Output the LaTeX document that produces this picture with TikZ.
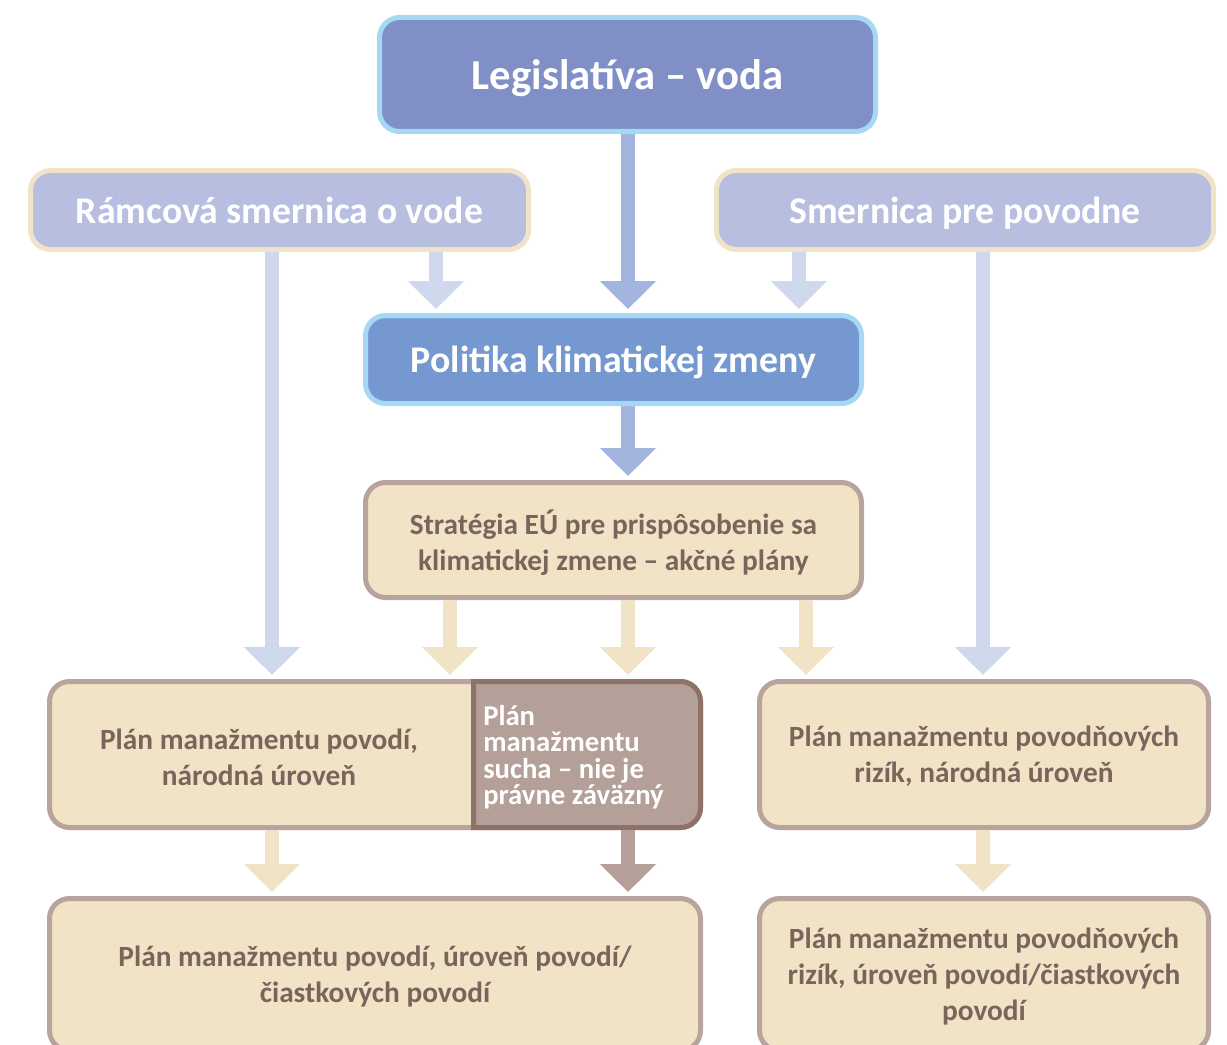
\documentclass[tikz,border=0pt]{standalone}
\usepackage{fontspec}
\setmainfont{Carlito}
\usepackage{tikz}
\usetikzlibrary{positioning,arrows.meta}
\definecolor{legisfill}{HTML}{8090C6}
\definecolor{legisline}{HTML}{A4D8F4}
\definecolor{dirfill}{HTML}{B8BEE0}
\definecolor{dirline}{HTML}{F0E4C8}
\definecolor{polfill}{HTML}{7598D0}
\definecolor{crfill}{HTML}{F1E3C5}
\definecolor{crline}{HTML}{B8A49C}
\definecolor{crtext}{HTML}{7B645C}
\definecolor{suchafill}{HTML}{B4A098}
\definecolor{suchaline}{HTML}{8E7268}
\definecolor{arrblue}{HTML}{A3B5DF}
\definecolor{arrpale}{HTML}{D0D8EE}

\begin{document}
\begin{tikzpicture}[x=0.75pt,y=0.75pt,yscale=-1,xscale=1,
	box/.style={rounded corners=15pt, line width=3.75pt, inner sep=0pt, align=center, text depth=0pt},
	legisbox/.style={box, fill=legisfill, draw=legisline, text=white, font=\bfseries\fontsize{32}{38}\selectfont},
	dirbox/.style={box, fill=dirfill, draw=dirline, text=white, font=\bfseries\fontsize{28.3}{34}\selectfont},
	polbox/.style={box, fill=polfill, draw=legisline, text=white, font=\bfseries\fontsize{28.3}{34}\selectfont},
	crbox/.style={box, fill=crfill, draw=crline},
	crtxt/.style={inner sep=0pt, align=center, text=crtext, font=\bfseries\fontsize{22}{27}\selectfont},
	blockarrow/.style={line width=10.5pt, -{Triangle[width=41pt,length=21pt]}, shorten >=3pt},
	bluearrow/.style={blockarrow, draw=arrblue},
	palearrow/.style={blockarrow, draw=arrpale},
	crarrow/.style={blockarrow, draw=crfill},
	suchaarrow/.style={blockarrow, draw=suchafill}]
	\useasboundingbox (0,0) rectangle (1227,1045);
	
	%Columns of the arrows
	\coordinate (c1) at (272,0);
	\coordinate (c2) at (436,0);
	\coordinate (c3) at (628,0);
	\coordinate (c4) at (799,0);
	\coordinate (c5) at (983,0);
	\coordinate (c6) at (450,0);
	\coordinate (c7) at (806,0);
	
	%Shape: Rounded Rect
	\node[legisbox, minimum width=372pt, minimum height=85.5pt] (legis) at (627.5,74.5) {Legislatíva – voda};
	%Shape: Rounded Rect
	\node[dirbox, minimum width=373.5pt, minimum height=59.25pt] (ramcova) at (279.5,210) {Rámcová smernica o vode};
	%Shape: Rounded Rect
	\node[dirbox, minimum width=373pt, minimum height=59.25pt] (smernica) at (965,210) {Smernica pre povodne};
	%Shape: Rounded Rect
	\node[polbox, minimum width=372pt, minimum height=66pt] (politika) at (613.5,359.5) {Politika klimatickej zmeny};
	%Shape: Rounded Rect
	\node[crbox, crtxt, minimum width=372pt, minimum height=86.25pt] (strategia) at (613.5,540) {Stratégia EÚ pre prispôsobenie sa\\klimatickej zmene – akčné plány};
	
	%Shape: Rounded Rect
	\node[crbox, minimum width=488.25pt, minimum height=109.5pt] (plannat) at (375,754.5) {};
	%Shape: drought part
	\draw[fill=suchafill, draw=suchaline, line width=3.75pt] (473.5,681.5) -- (680.5,681.5) arc[start angle=-90, end angle=0, radius=20] -- (700.5,807.5) arc[start angle=0, end angle=90, radius=20] -- (473.5,827.5) -- cycle;
	% Text Node
	\node[crtxt, text depth=0pt] (plannatlbl) at (259,757) {Plán manažmentu povodí,\\národná úroveň};
	% Text Node
	\node[anchor=north west, inner sep=0pt, align=left, text=white, font=\bfseries\fontsize{21.5}{19.8}\selectfont] (sucha) at (483,705) {Plán\\manažmentu\\sucha – nie je\\právne záväzný};
	%Shape: Rounded Rect
	\node[crbox, crtxt, minimum width=336.75pt, minimum height=109.5pt] (planriz) at (984,754.5) {Plán manažmentu povodňových\\rizík, národná úroveň};
	
	%Shape: Rounded Rect
	\node[crbox, crtxt, minimum width=488.25pt, minimum height=114pt] (planpov) at (375,974.5) {Plán manažmentu povodí, úroveň povodí/\\čiastkových povodí};
	%Shape: Rounded Rect
	\node[crbox, crtxt, minimum width=336.75pt, minimum height=114pt] (planpovriz) at (984,974.5) {Plán manažmentu povodňových\\rizík, úroveň povodí/čiastkových\\povodí};
	
	%Arrows from the top
	\draw[bluearrow] (legis.south -| c3) -- (politika.north -| c3);
	\draw[palearrow] (ramcova.south -| c2) -- (politika.north -| c2);
	\draw[palearrow] (smernica.south -| c4) -- (politika.north -| c4);
	\draw[palearrow] (ramcova.south -| c1) -- (plannat.north -| c1);
	\draw[palearrow] (smernica.south -| c5) -- (planriz.north -| c5);
	\draw[bluearrow] (politika.south -| c3) -- (strategia.north -| c3);
	%Arrows from the strategy
	\draw[crarrow] (strategia.south -| c6) -- (plannat.north -| c6);
	\draw[crarrow] (strategia.south -| c3) -- (plannat.north -| c3);
	\draw[crarrow] (strategia.south -| c7) -- (planriz.north -| c7);
	%Arrows to the bottom row
	\draw[crarrow] (plannat.south -| c1) -- (planpov.north -| c1);
	\draw[suchaarrow] (plannat.south -| c3) -- (planpov.north -| c3);
	\draw[crarrow] (planriz.south -| c5) -- (planpovriz.north -| c5);
	
\end{tikzpicture}
\end{document}
